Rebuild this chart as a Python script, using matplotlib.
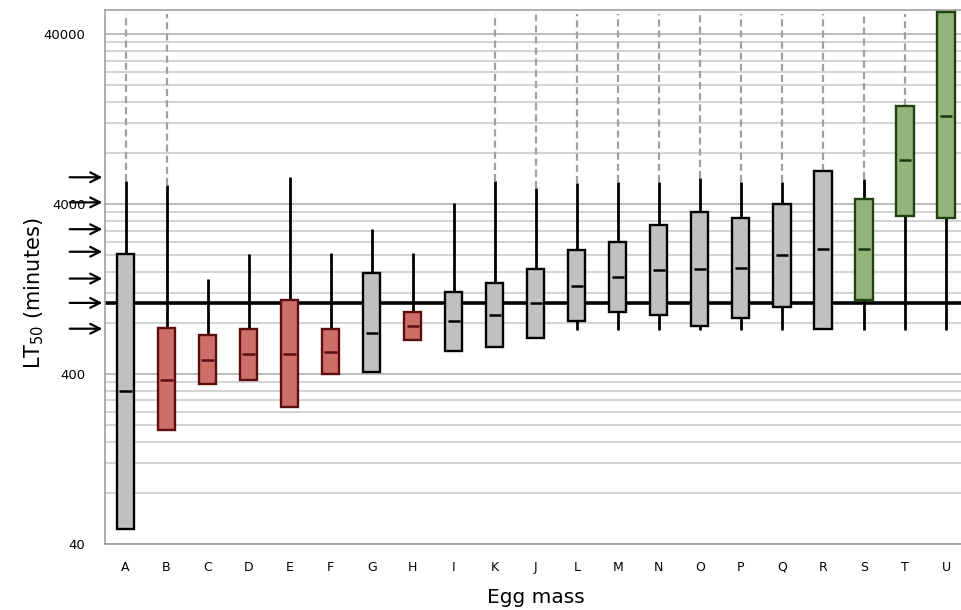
import matplotlib
matplotlib.use("Agg")
import matplotlib.pyplot as plt
import matplotlib.transforms as mtransforms
import numpy as np

# ---------------- data ----------------
categories = ["A", "B", "C", "D", "E", "F", "G", "H", "I", "K", "J",
              "L", "M", "N", "O", "P", "Q", "R", "S", "T", "U"]
groups = ["gray", "red", "red", "red", "red", "red", "gray", "red", "gray", "gray", "gray",
          "gray", "gray", "gray", "gray", "gray", "gray", "gray", "green", "green", "green"]
# upper whisker end (nan = none)
whisker_hi = [5500, 5190, 1450, 2040, 5790, 2065, 2860, 2065, 4065, 5480, 4980,
              5330, 5400, 5400, 5700, 5400, 5400, np.nan, 5620, np.nan, np.nan]
box_top = [2030, 750, 680, 734, 1092, 734, 1574, 928, 1217, 1375, 1662,
           2150, 2400, 3020, 3600, 3320, 4010, 6270, 4290, 15100, 54100]
median = [318, 369, 484, 527, 527, 542, 698, 768, 822, 891, 1048,
          1320, 1490, 1640, 1662, 1685, 2010, 2180, 2180, 7280, 13200]
box_bottom = [49, 188, 351, 368, 255, 400, 412, 635, 547, 578, 652,
              822, 928, 891, 768, 856, 993, 737, 1092, 3410, 3320]
# lower whisker end (nan = none)
whisker_lo = [np.nan] * 11 + [727, 727, 727, 727, 727, 727, np.nan, 727, 727, 727]
# open-ended upper range (dashed continuation to the top)
open_top = [True, True, False, False, False, False, False, False, False, True, True,
            True, True, True, True, True, True, True, True, True, False]
arrow_values = [5760, 4100, 2850, 2100, 1460, 1050, 740]
reference_value = 1050
ytick_values = [40, 400, 4000, 40000]
ytick_labels = ["40", "400", "4000", "40000"]
y_limits = (40, 55600)
dash_top = 52500

# ---------------- style ----------------
fills = {"gray": "#c0c0c0", "red": "#cd6e69", "green": "#93b57b"}
edges = {"gray": "#000000", "red": "#5c0d0d", "green": "#23400f"}
meds = {"gray": "#000000", "red": "#5c0d0d", "green": "#1c360c"}

W, H = 961, 610
fig = plt.figure(figsize=(W / 100, H / 100), dpi=100)
ax = fig.add_axes([105 / W, (H - 544) / H, 861.5 / W, 534 / H])
ax.set_yscale("log")
ax.set_ylim(*y_limits)
ax.set_xlim(-0.5, len(categories) - 0.5)

# grid lines
minor = [b * k for b in (40, 400, 4000) for k in range(2, 10)]
ax.set_yticks(ytick_values)
ax.set_yticklabels(ytick_labels)
ax.set_yticks(minor, minor=True)
ax.yaxis.set_minor_formatter(matplotlib.ticker.NullFormatter())
ax.grid(axis="y", which="major", color="#a8a8a8", lw=1.1, zorder=0)
ax.grid(axis="y", which="minor", color="#c8c8c8", lw=1.1, zorder=0)
ax.set_axisbelow(True)
ax.tick_params(axis="both", which="both", length=0)
ax.tick_params(axis="y", pad=14, labelsize=9.5)
ax.tick_params(axis="x", pad=12, labelsize=9)
ax.set_xticks(range(len(categories)))
ax.set_xticklabels(categories)
for s in ("left", "bottom", "top"):
    ax.spines[s].set_color("#999999")
    ax.spines[s].set_linewidth(1.1)
ax.spines["right"].set_visible(False)

# reference line
ax.axhline(reference_value, color="black", lw=2.6, zorder=2)

bw = 0.42
mw = 0.30
for i, c in enumerate(categories):
    g = groups[i]
    top_end = whisker_hi[i] if not np.isnan(whisker_hi[i]) else box_top[i]
    if open_top[i]:
        ax.plot([i, i], [top_end, dash_top], color="#a0a0a0", lw=1.6,
                ls=(0, (3.2, 1.8)), zorder=1.5)
    if not np.isnan(whisker_hi[i]):
        ax.plot([i, i], [box_top[i], whisker_hi[i]], color="black", lw=2.0,
                zorder=3, solid_capstyle="butt")
    if not np.isnan(whisker_lo[i]):
        ax.plot([i, i], [box_bottom[i], whisker_lo[i]], color="black", lw=2.0,
                zorder=3, solid_capstyle="butt")
    rect = plt.Rectangle((i - bw / 2, box_bottom[i]), bw, box_top[i] - box_bottom[i],
                         facecolor=fills[g], edgecolor=edges[g], lw=1.7, zorder=4)
    ax.add_patch(rect)
    ax.plot([i - mw / 2, i + mw / 2], [median[i], median[i]], color=meds[g],
            lw=1.8, zorder=5, solid_capstyle="butt")

# arrows on the left
trans = mtransforms.blended_transform_factory(ax.transAxes, ax.transData)
for v in arrow_values:
    ax.annotate("", xy=(-0.003, v), xycoords=trans, xytext=(-0.041, v), textcoords=trans,
                arrowprops=dict(arrowstyle="->,head_length=0.7,head_width=0.35",
                                lw=1.6, color="black", shrinkA=0, shrinkB=0),
                annotation_clip=False)

plt.rcParams["mathtext.default"] = "regular"
ax.set_xlabel("Egg mass", fontsize=14.5, labelpad=10)
ax.set_ylabel("LT$_{50}$ (minutes)", fontsize=15)
ax.yaxis.set_label_coords(-0.068, 0.47)

fig.savefig("out.png", dpi=100)
